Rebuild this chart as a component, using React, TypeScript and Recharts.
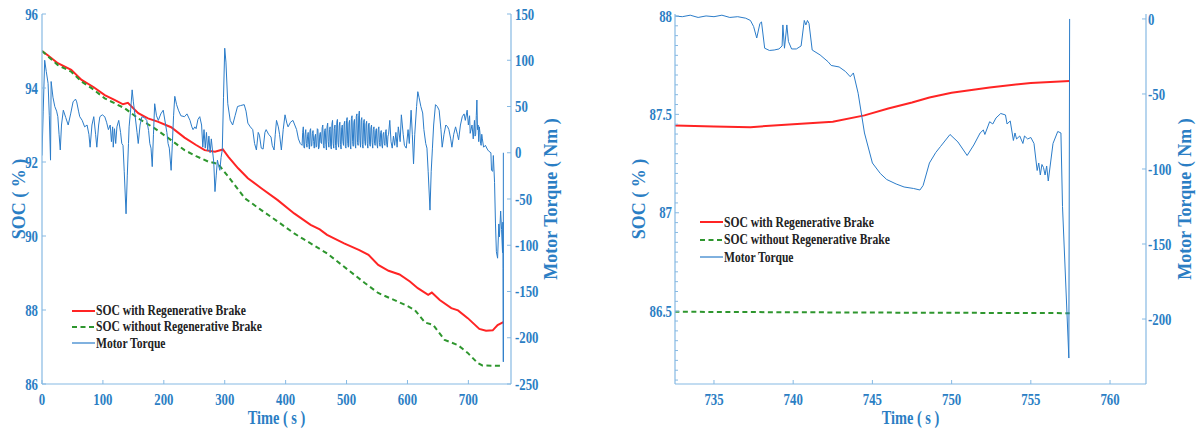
import React from "react";
import { LineChart, Line, XAxis, YAxis } from "recharts";

const FONT = '"Liberation Serif", "Times New Roman", serif';
const TXT = "#2b7ec4";
const AXIS = "#86b9e3";
const TORQUE = "#2b7cc9";
const RED = "#ff2424";
const GREEN = "#2e962e";
const SQ = 0.8; // the original figure is squeezed horizontally

// ---- full cycle (0 - 757 s) ----
const socRegenFull: [number, number][] = [
  [0, 95.0], [10, 94.88], [26, 94.67], [48, 94.49], [65, 94.22], [85, 94.02], [103, 93.81],
  [119, 93.68], [133, 93.56], [141, 93.6], [158, 93.32], [174, 93.18], [190, 93.09], [212, 92.94],
  [234, 92.66], [253, 92.46], [267, 92.32], [284, 92.28], [297, 92.34], [306, 92.14], [322, 91.83],
  [338, 91.56], [360, 91.29], [387, 90.97], [414, 90.61], [441, 90.3], [456, 90.18], [468, 90.03],
  [496, 89.8], [521, 89.62], [536, 89.49], [552, 89.22], [569, 89.06], [587, 88.96], [604, 88.77],
  [617, 88.59], [634, 88.41], [640, 88.47], [653, 88.27], [672, 88.05], [683, 87.99], [699, 87.78],
  [718, 87.49], [729, 87.44], [740, 87.45], [748, 87.59], [757.45, 87.67],
];

const socNoRegenFull: [number, number][] = [
  [0, 95.0], [26, 94.62], [48, 94.44], [65, 94.17], [82, 93.99], [103, 93.72], [136, 93.45],
  [158, 93.18], [185, 92.91], [212, 92.59], [234, 92.32], [253, 92.16], [273, 92.01], [289, 91.95],
  [306, 91.6], [333, 91.02], [360, 90.7], [387, 90.39], [414, 90.07], [441, 89.8], [468, 89.53],
  [506, 89.04], [530, 88.73], [552, 88.46], [574, 88.3], [596, 88.14], [612, 88.0], [629, 87.66],
  [642, 87.6], [661, 87.19], [683, 87.05], [699, 86.84], [715, 86.57], [723, 86.5], [757.45, 86.49],
];

const torqueFull: [number, number][] = [
  [0, -3], [2, 45], [4.4, 100], [7, 88], [10, 75], [12, 40], [14, -8], [15, 77], [18, 60], [21, 50],
  [24, 45], [26, 39], [28, 20], [30, 3], [32, 30], [35, 46], [39, 38], [43, 30], [47, 42], [51, 55],
  [55, 58], [57, 55], [60, 45], [62, 39], [66, 35], [70, 28], [74, 30], [77, 20], [79, 6], [82, 30],
  [85, 39], [88, 20], [90, 6], [93, 30], [95, 39], [99, 41], [103, 39], [106, 33], [109, 25], [112, 30],
  [114, 12], [116, 28], [117, 6], [119, 26], [121, 10], [123, 28], [126, 35], [129, 22], [131, 10],
  [133, 8], [135, -20], [138, -66], [140, -25], [142, 10], [143, 28], [146, 50], [148, 68], [150, 55],
  [153, 39], [156, 22], [158, 10], [161, 30], [164, 39], [168, 38], [172, 35], [175, 24], [177, 10],
  [179, 5], [181, -15], [183, 20], [185, 53], [188, 40], [191, 35], [195, 42], [199, 46], [203, 30],
  [205, 22], [207, 10], [209, 5], [212, -19], [214, 10], [216, 40], [218, 61], [221, 52], [224, 46],
  [228, 40], [234, 39], [238, 42], [243, 35], [246, 28], [248, 25], [251, 28], [253, 26], [256, 36],
  [259, 39], [262, 30], [264, 6], [266, 25], [268, 5], [270, 22], [272, 2], [274, 18], [276, 0],
  [278, 15], [280, 2], [282, -10], [284, -42], [286, -25], [288, -8], [290, -14], [292, -19], [294, -5],
  [296, 3], [298, 60], [300, 113], [302, 98], [305, 53], [309, 35], [313, 30], [317, 40], [321, 50],
  [326, 51], [332, 52], [335, 45], [338, 32], [342, 28], [346, 25], [349, 10], [352, 3], [355, 22],
  [357, 19], [360, 5], [363, 4], [366, 22], [368, 25], [372, 20], [376, 17], [378, 8], [381, 3],
  [383, 20], [385, 35], [388, 28], [390, 20], [393, 3], [396, 25], [399, 41], [402, 32], [404, 28],
  [408, 33], [412, 35], [415, 30], [418, 25], [421, 15], [424, 10],
  [427, 8], [428, 22], [429, 28], [430, 6], [431, 5], [432, 20], [433, 25], [434, 10], [435, 6],
  [436, 18], [437, 22], [438, 9], [439, 4], [440, 24], [441, 26], [442, 7], [443, 8], [444, 21],
  [445, 24], [446, 12], [447, 5], [448, 17], [449, 20], [450, 6], [451, 7], [452, 26], [453, 25],
  [454, 4], [455, 6], [456, 20], [457, 22], [458, 11], [459, 10], [460, 27], [461, 30], [462, 8],
  [463, 5], [464, 24], [465, 26], [466, 9], [467, 3], [468, 28], [469, 32], [470, 12], [471, 6],
  [472, 25], [473, 28], [474, 7], [475, 4], [476, 31], [477, 35], [478, 10], [479, 5], [480, 26],
  [481, 30], [482, 8], [483, 3], [484, 33], [485, 36], [486, 11], [487, 6], [488, 29], [489, 33],
  [490, 9], [491, 4], [492, 27], [493, 30], [494, 12], [495, 8], [496, 31], [497, 34], [498, 7],
  [499, 5], [500, 35], [501, 38], [502, 10], [503, 6], [504, 32], [505, 35], [506, 8], [507, 4],
  [508, 37], [509, 40], [510, 12], [511, 7], [512, 33], [513, 36], [514, 9], [515, 5], [516, 39],
  [517, 42], [518, 11], [519, 8], [520, 40], [521, 45], [522, 13], [523, 6], [524, 35], [525, 38],
  [526, 9], [527, 5], [528, 33], [529, 36], [530, 12], [531, 8], [532, 31], [533, 34], [534, 10],
  [535, 5], [536, 30], [537, 32], [538, 9], [539, 7], [540, 27], [541, 30], [542, 11], [543, 5],
  [544, 25], [545, 28], [546, 10], [547, 8], [548, 24], [549, 26], [550, 9], [551, 5], [552, 25],
  [553, 28], [554, 11], [555, 7], [556, 22], [557, 24], [558, 8], [559, 5], [560, 20], [561, 22],
  [562, 10], [563, 8], [564, 23], [565, 25], [566, 9], [567, 6], [568, 18], [569, 20],
  [571, 35], [573, 12], [575, 5], [577, 18], [579, 8], [581, 22], [583, 6], [585, 28], [588, 12],
  [590, 41], [593, 20], [595, 8], [598, 5], [601, 25], [603, 10], [606, 46], [608, 20], [610, -12],
  [612, 20], [615, 50], [617, 66], [619, 60], [622, 50], [625, 43], [627, 25], [630, 10], [632, 5],
  [634, -20], [637, -62], [639, -20], [641, 5], [643, 30], [646, 52], [649, 50], [652, 46], [655, 25],
  [657, 6], [660, 20], [663, 30], [666, 28], [668, 25], [671, 15], [673, 6], [676, 20], [679, 28],
  [682, 20], [684, 14], [687, 30], [690, 39], [693, 42], [695, 35], [698, 46], [700, 30], [702, 40],
  [703, 21], [706, 30], [708, 15], [710, 35], [711, 18], [712, 20], [713, 40], [714, 57], [715, 25],
  [716, 30], [717, 12], [718, 28], [719, 22], [720, 10], [721, 8], [722, 20], [723, 15], [725, 6],
  [728, 8], [731, 4], [733, 2], [737, 0], [738, -19], [740, -20], [741, -3], [743, -32], [744.5, -76],
  [746, -107], [748, -114], [750, -77], [751, -91], [753, -63], [754.5, -83], [756.1, -108],
  [756.7, -75], [757, -125], [757.4, -226], [757.45, 0],
];

// ---- zoom on the final braking (732.5 - 757.5 s) ----
const socRegenZoom: [number, number][] = [
  [732.5, 87.443], [735, 87.438], [737.3, 87.435], [740, 87.45], [742.5, 87.462], [744.5, 87.495],
  [746, 87.53], [747.5, 87.56], [748.6, 87.586], [750, 87.61], [752.4, 87.636], [755, 87.66],
  [757.45, 87.67],
];

const socNoRegenZoom: [number, number][] = [
  [732.5, 86.497], [745, 86.493], [757.45, 86.49],
];

const torqueZoom: [number, number][] = [
  [732.5, 2], [733, 1.5], [733.5, 2.5], [734, 1], [734.5, 2], [735, 1.5], [735.5, 2.5], [736, 1],
  [736.5, 1.5], [737, 0.5], [737.3, -1], [737.5, -5], [737.7, -12.7], [737.9, -3], [738.0, -2],
  [738.2, -19.5], [738.5, -21], [738.8, -20.7], [739.1, -20], [739.3, -18], [739.35, -4],
  [739.45, -19.5], [739.6, -4], [739.7, -15], [739.9, -20], [740.2, -20], [740.5, -18], [740.7, -1],
  [740.8, -4], [740.9, -1], [741.0, -3], [741.2, -20.7], [741.7, -24], [742.2, -28.5], [742.4, -31],
  [742.9, -32], [743.3, -35], [743.6, -38.5], [743.8, -36], [744.1, -49.5], [744.5, -76], [745.0, -96],
  [745.5, -103], [745.9, -107], [746.5, -110], [747.0, -112], [747.6, -113], [748.0, -114],
  [748.2, -111], [748.6, -96], [749.0, -89], [749.3, -85], [749.9, -77], [750.4, -82], [750.98, -91],
  [751.4, -84], [751.8, -76], [752.0, -74], [752.1, -77], [752.4, -68.5], [752.6, -70], [752.8, -66],
  [753.1, -63], [753.4, -64], [753.5, -70], [753.7, -68], [753.9, -81], [754.0, -76], [754.1, -80],
  [754.3, -78], [754.5, -83], [754.6, -78], [754.8, -80], [755.0, -79], [755.2, -83], [755.4, -101],
  [755.5, -96], [755.6, -104], [755.7, -97], [755.8, -99], [755.9, -104], [756.0, -98], [756.1, -108],
  [756.4, -83], [756.7, -75], [756.9, -76], [757.0, -125], [757.4, -226], [757.45, 0],
];

// ticks
const fullTimeTicks = [0, 100, 200, 300, 400, 500, 600, 700];
const fullSocTicks = [86, 88, 90, 92, 94, 96];
const fullTorqueTicks = [-250, -200, -150, -100, -50, 0, 50, 100, 150];
const zoomTimeTicks = [735, 740, 745, 750, 755, 760];
const zoomSocTicks = [86.5, 87, 87.5, 88];
const zoomSocMinor = [
  86.15, 86.2, 86.25, 86.3, 86.35, 86.4, 86.45, 86.55, 86.6, 86.65, 86.7, 86.75, 86.8, 86.85,
  86.9, 86.95, 87.05, 87.1, 87.15, 87.2, 87.25, 87.3, 87.35, 87.4, 87.45, 87.55, 87.6, 87.65,
  87.7, 87.75, 87.8, 87.85, 87.9, 87.95,
];
const zoomTorqueTicks = [-200, -150, -100, -50, 0];

const seriesNames = ["SOC with Regenerative Brake", "SOC without Regenerative Brake", "Motor Torque"];

const rows = (pts: [number, number][]) => pts.map(([t, v]) => ({ t, v }));

const Tick = (props: any) => {
  const { x, y, payload, textAnchor, kind } = props;
  const dy = kind === "x" ? 11.5 : 5.6;
  return (
    <text
      transform={`translate(${x},${y}) scale(${SQ},1)`}
      textAnchor={textAnchor}
      dy={dy}
      fontFamily={FONT}
      fontWeight="bold"
      fontSize={16}
      fill={TXT}
    >
      {payload.value}
    </text>
  );
};

const vTitle = (text: string, dx: number) => (p: any) => {
  const vb = p.viewBox;
  return (
    <text
      transform={`translate(${vb.x + dx},${vb.y + vb.height / 2}) rotate(-90)`}
      textAnchor="middle"
      dominantBaseline="central"
      fontFamily={FONT}
      fontWeight="bold"
      fontSize={18}
      fill={TXT}
    >
      {text}
    </text>
  );
};

const hTitle = (text: string) => (p: any) => {
  const vb = p.viewBox;
  return (
    <text
      transform={`translate(${vb.x + vb.width / 2},${vb.y + 40}) scale(${SQ},1)`}
      textAnchor="middle"
      fontFamily={FONT}
      fontWeight="bold"
      fontSize={18}
      fill={TXT}
    >
      {text}
    </text>
  );
};

function Key({ left, top, step }: { left: number; top: number; step: number }) {
  const styles = [
    { color: RED, w: 2, dash: undefined },
    { color: GREEN, w: 2, dash: "5 3.5" },
    { color: TORQUE, w: 1.2, dash: undefined },
  ];
  return (
    <div style={{ position: "absolute", left, top }}>
      {seriesNames.map((name, i) => (
        <div
          key={name}
          style={{ position: "absolute", left: 0, top: i * step, height: 16, display: "flex", alignItems: "center", whiteSpace: "nowrap" }}
        >
          <svg width={23} height={16}>
            <line x1={0} x2={23} y1={8} y2={8} stroke={styles[i].color} strokeWidth={styles[i].w} strokeDasharray={styles[i].dash} />
          </svg>
          <span
            style={{
              display: "inline-block",
              fontFamily: FONT,
              fontWeight: "bold",
              fontSize: 14.5,
              color: "#222",
              transform: `scaleX(${SQ})`,
              transformOrigin: "left center",
              marginLeft: 1,
            }}
          >
            {name}
          </span>
        </div>
      ))}
    </div>
  );
}

const axisProps = {
  axisLine: { stroke: AXIS, strokeWidth: 1.2 },
  tickLine: { stroke: AXIS },
  tickSize: -4,
  interval: 0 as const,
  allowDataOverflow: true,
};

export default function App() {
  return (
    <div style={{ position: "absolute", left: 0, top: 0, width: 1201, height: 433, background: "#fff" }}>
      <div style={{ position: "absolute", left: 0, top: 0 }}>
        <LineChart width={600} height={433} margin={{ top: 14, right: 0, bottom: 0, left: 0 }}>
          <XAxis
            dataKey="t"
            type="number"
            domain={[0, 770]}
            ticks={fullTimeTicks}
            height={49}
            tickMargin={13}
            tick={<Tick kind="x" />}
            label={hTitle("Time ( s )")}
            {...axisProps}
          />
          <YAxis
            yAxisId="soc"
            orientation="left"
            domain={[86, 96]}
            ticks={fullSocTicks}
            width={42}
            tickMargin={8}
            tick={<Tick kind="y" />}
            label={vTitle("SOC ( % )", 19)}
            {...axisProps}
          />
          <YAxis
            yAxisId="torque"
            orientation="right"
            domain={[-250, 150]}
            ticks={fullTorqueTicks}
            width={89}
            tickMargin={8}
            tick={<Tick kind="y" />}
            label={vTitle("Motor Torque ( Nm )", 40)}
            {...axisProps}
          />
          <Line yAxisId="soc" data={rows(socRegenFull)} dataKey="v" name={seriesNames[0]} stroke={RED} strokeWidth={2} dot={false} activeDot={false} isAnimationActive={false} />
          <Line yAxisId="soc" data={rows(socNoRegenFull)} dataKey="v" name={seriesNames[1]} stroke={GREEN} strokeWidth={2} strokeDasharray="5 3.5" dot={false} activeDot={false} isAnimationActive={false} />
          <Line yAxisId="torque" data={rows(torqueFull)} dataKey="v" name={seriesNames[2]} stroke={TORQUE} strokeWidth={1} dot={false} activeDot={false} isAnimationActive={false} />
        </LineChart>
        <Key left={72} top={302.5} step={16.4} />
      </div>

      <div style={{ position: "absolute", left: 600, top: 0 }}>
        <LineChart width={601} height={433} margin={{ top: 14, right: 0, bottom: 0, left: 0 }}>
          <XAxis
            dataKey="t"
            type="number"
            domain={[732.54, 762.27]}
            ticks={zoomTimeTicks}
            height={49}
            tickMargin={13}
            tick={<Tick kind="x" />}
            label={hTitle("Time ( s )")}
            {...axisProps}
          />
          <YAxis
            yAxisId="minor"
            orientation="left"
            mirror
            domain={[86.13, 88.01]}
            ticks={zoomSocMinor}
            tick={() => <g />}
            axisLine={false}
            tickLine={{ stroke: AXIS }}
            tickSize={3}
            interval={0}
            allowDataOverflow
          />
          <YAxis
            yAxisId="soc"
            orientation="left"
            domain={[86.13, 88.01]}
            ticks={zoomSocTicks}
            width={75}
            tickMargin={7}
            tick={<Tick kind="y" />}
            label={vTitle("SOC ( % )", 39)}
            {...axisProps}
          />
          <YAxis
            yAxisId="torque"
            orientation="right"
            domain={[-243.3, 3.3]}
            ticks={zoomTorqueTicks}
            width={55}
            tickMargin={6}
            tick={<Tick kind="y" />}
            label={vTitle("Motor Torque ( Nm )", 39)}
            {...axisProps}
          />
          <Line yAxisId="soc" data={rows(socRegenZoom)} dataKey="v" name={seriesNames[0]} stroke={RED} strokeWidth={2} dot={false} activeDot={false} isAnimationActive={false} />
          <Line yAxisId="soc" data={rows(socNoRegenZoom)} dataKey="v" name={seriesNames[1]} stroke={GREEN} strokeWidth={2} strokeDasharray="5 3.5" dot={false} activeDot={false} isAnimationActive={false} />
          <Line yAxisId="torque" data={rows(torqueZoom)} dataKey="v" name={seriesNames[2]} stroke={TORQUE} strokeWidth={1} dot={false} activeDot={false} isAnimationActive={false} />
        </LineChart>
        <Key left={100} top={214} step={17.5} />
      </div>
    </div>
  );
}
